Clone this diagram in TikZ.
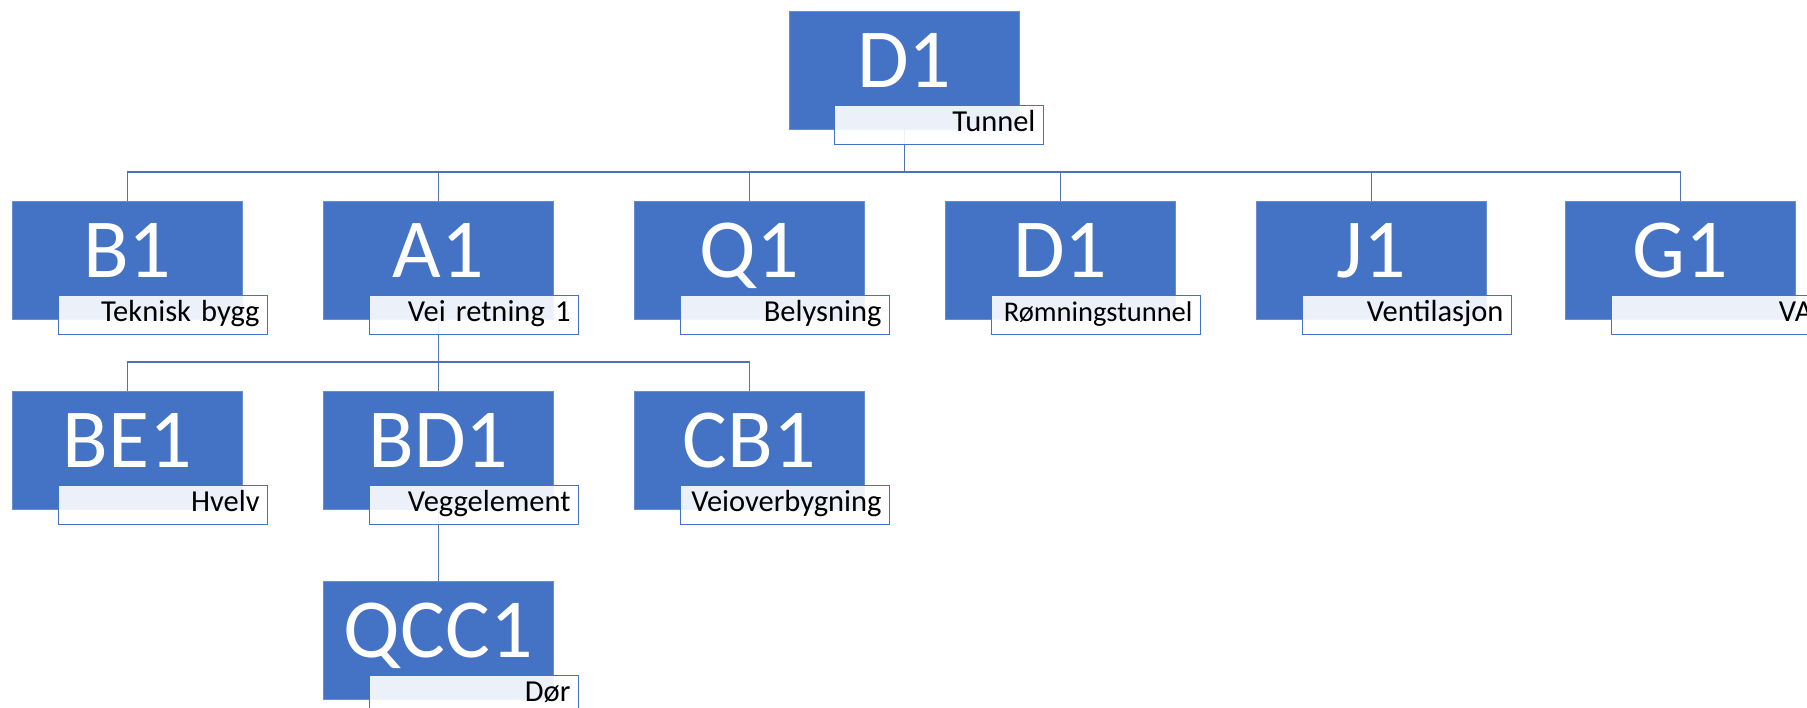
\documentclass[tikz,border=0pt]{standalone}
\usepackage{fontspec}
\setmainfont{Carlito}[WordSpace=0.75]
\usetikzlibrary{backgrounds}
\definecolor{orgblue}{HTML}{4472C4}
\definecolor{linkblue}{HTML}{4F72B4}
\tikzset{
  unit/.style={fill=orgblue, draw=orgblue!80!white, line width=0.6pt, text=white,
    minimum width=230pt, minimum height=118pt, inner sep=0pt, anchor=north west,
    font=\fontsize{84}{84}\selectfont, text height=56pt, text depth=22pt},
  tag/.style={fill=white, fill opacity=0.9, text opacity=1, draw=orgblue, line width=1pt,
    text width=193pt, align=right, inner xsep=8pt, inner ysep=0pt, minimum height=39pt,
    anchor=north west, font=\fontsize{30.5}{30.5}\selectfont, text height=20pt, text depth=7pt},
  link/.style={draw=linkblue, line width=1.4pt}
}
\begin{document}
\begin{tikzpicture}[x=1pt, y=-1pt]
        \useasboundingbox (0, 0) rectangle (1807, 708);
        \clip (0, 0) rectangle (1807, 708);
        % top
        \node[unit] (d1) at (789, 11) {D1};
        \node[tag] (d1t) at ([xshift=45pt, yshift=25pt]d1.south west) {Tunnel};
        % second row
        \node[unit] (b1) at (12, 201) {B1};
        \node[tag] (b1t) at ([xshift=46pt, yshift=25pt]b1.south west) {Teknisk bygg};
        \node[unit] (a1) at (323, 201) {A1};
        \node[tag] (a1t) at ([xshift=46pt, yshift=25pt]a1.south west) {Vei retning 1};
        \node[unit] (q1) at (634, 201) {Q1};
        \node[tag] (q1t) at ([xshift=46pt, yshift=25pt]q1.south west) {Belysning};
        \node[unit] (d1b) at (945, 201) {D1};
        \node[tag, font=\fontsize{28.5}{28.5}\selectfont] (d1bt) at ([xshift=46pt, yshift=25pt]d1b.south west) {Rømningstunnel};
        \node[unit] (j1) at (1256, 201) {J1};
        \node[tag] (j1t) at ([xshift=46pt, yshift=25pt]j1.south west) {Ventilasjon};
        \node[unit] (g1) at (1565, 201) {G1};
        \node[tag] (g1t) at ([xshift=46pt, yshift=25pt]g1.south west) {VA\hspace*{16pt}};
        % third row
        \node[unit] (be1) at (12, 391) {BE1};
        \node[tag] (be1t) at ([xshift=46pt, yshift=25pt]be1.south west) {Hvelv};
        \node[unit] (bd1) at (323, 391) {BD1};
        \node[tag] (bd1t) at ([xshift=46pt, yshift=25pt]bd1.south west) {Veggelement};
        \node[unit] (cb1) at (634, 391) {CB1};
        \node[tag] (cb1t) at ([xshift=46pt, yshift=25pt]cb1.south west) {Veioverbygning};
        % fourth row
        \node[unit] (qcc1) at (323, 581) {QCC1};
        \node[tag] (qcc1t) at ([xshift=46pt, yshift=25pt]qcc1.south west) {Dør};
        % links
        \coordinate (bus1) at (0, 172);
        \coordinate (bus2) at (0, 362);
        \begin{scope}[on background layer]
        \foreach \kid in {b1, a1, q1, d1b, j1, g1}
            \draw[link] (d1.south) -- (d1.south |- bus1) -| (\kid.north);
        \foreach \kid in {be1, bd1, cb1}
            \draw[link] (a1.south) -- (a1.south |- bus2) -| (\kid.north);
        \draw[link] (bd1.south) -- (qcc1.north);
        \end{scope}
\end{tikzpicture}
\end{document}
